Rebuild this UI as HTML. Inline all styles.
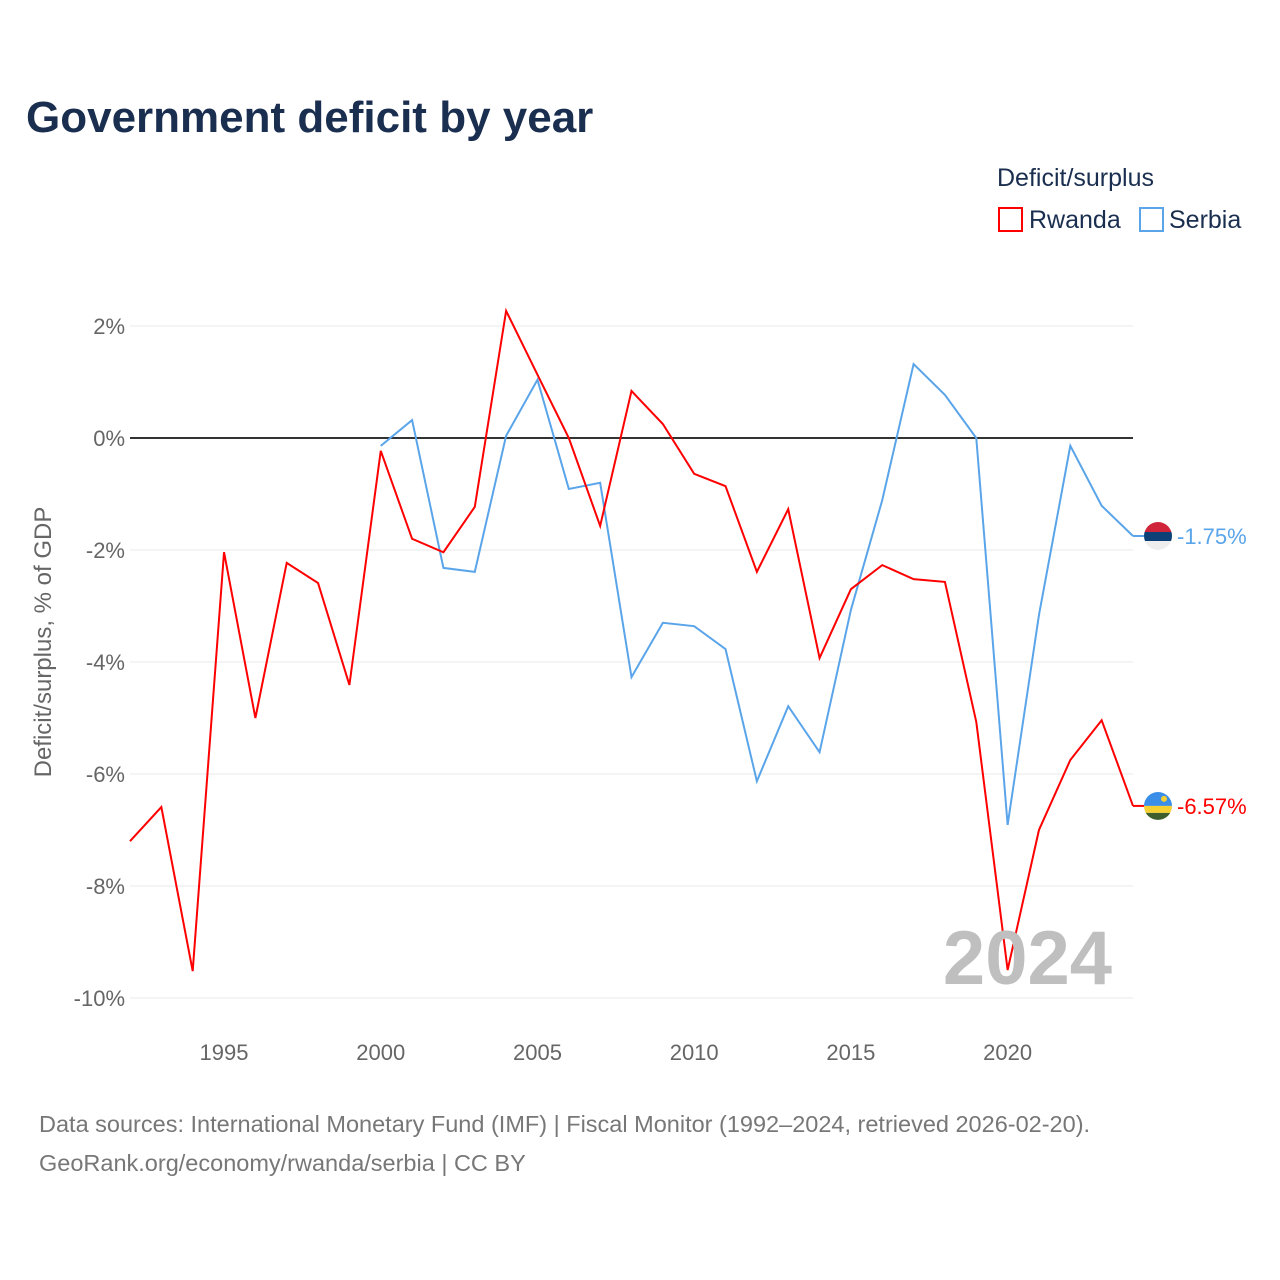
<!DOCTYPE html>
<html><head><meta charset="utf-8"><style>
body{margin:0;background:#fff;font-family:"Liberation Sans",sans-serif;}
</style></head><body>
<svg id="chart" width="1280" height="1280" xmlns="http://www.w3.org/2000/svg" style="display:block">
<defs>
<clipPath id="c-serbia"><circle cx="1158" cy="536" r="14"/></clipPath>
<clipPath id="c-rwanda"><circle cx="1158" cy="806" r="14"/></clipPath>
</defs>
<rect width="1280" height="1280" fill="#fff"/>
<text x="26" y="132" font-size="44" font-weight="bold" fill="#1a2e4f">Government deficit by year</text>
<text x="997" y="186" font-size="25" fill="#1a2e4f">Deficit/surplus</text>
<g><rect x="999" y="208" width="23" height="23" fill="none" stroke="#ff0000" stroke-width="2"/><text x="1029" y="228" font-size="25" fill="#1a2e4f">Rwanda</text></g>
<g><rect x="1140" y="208" width="23" height="23" fill="none" stroke="#5aa5ea" stroke-width="2"/><text x="1169" y="228" font-size="25" fill="#1a2e4f">Serbia</text></g>
<text transform="translate(51,642) rotate(-90)" text-anchor="middle" font-size="24" fill="#666">Deficit/surplus, % of GDP</text>
<g id="grid"></g><g id="axes"></g><g id="series"></g>
<text x="1112" y="984" text-anchor="end" font-size="76" font-weight="bold" fill="#bfbfbf">2024</text>
<text x="39" y="1132" font-size="23.5" fill="#777">Data sources: International Monetary Fund (IMF) | Fiscal Monitor (1992–2024, retrieved 2026-02-20).</text>
<text x="39" y="1171" font-size="23.5" fill="#777">GeoRank.org/economy/rwanda/serbia | CC BY</text>
</svg>
<script>
const years=[];for(let y=1992;y<=2024;y++)years.push(y);
const rwanda=[-7.2,-6.59,-9.52,-2.04,-5.0,-2.23,-2.59,-4.41,-0.23,-1.8,-2.04,-1.23,2.27,1.13,0,-1.57,0.84,0.25,-0.64,-0.86,-2.39,-1.27,-3.93,-2.7,-2.27,-2.52,-2.57,-5.07,-9.5,-7.0,-5.75,-5.04,-6.57];
const serbiaYears=[];for(let y=2000;y<=2024;y++)serbiaYears.push(y);
const serbia=[-0.14,0.32,-2.32,-2.39,0.04,1.04,-0.91,-0.8,-4.27,-3.3,-3.36,-3.77,-6.13,-4.79,-5.61,-3.07,-1.11,1.32,0.77,0,-6.91,-3.16,-0.14,-1.21,-1.75];
const yTicks=[2,0,-2,-4,-6,-8,-10];
const xTicks=[1995,2000,2005,2010,2015,2020];
const NS="http://www.w3.org/2000/svg";
const X=y=>130+(y-1992)*(1133-130)/32;
const Y=v=>438-v*56;
function mk(tag,attrs,parent){const e=document.createElementNS(NS,tag);for(const k in attrs)e.setAttribute(k,attrs[k]);parent.appendChild(e);return e;}
const grid=document.getElementById('grid'),axes=document.getElementById('axes'),series=document.getElementById('series');
yTicks.forEach(t=>{
  const l=mk('line',{x1:130,x2:1133,y1:Y(t),y2:Y(t),stroke:t===0?'#333':'#e8e8e8','stroke-width':t===0?2:1},grid);
  
  
  const tx=mk('text',{x:125,y:Y(t)+8,'text-anchor':'end','font-size':22,fill:'#666'},axes);
  tx.textContent=t+'%';
  
  
});
xTicks.forEach(t=>{
  const tx=mk('text',{x:X(t),y:1060,'text-anchor':'middle','font-size':22,fill:'#666'},axes);
  tx.textContent=t;
  
  
});
function line(xs,vs,color,name,stripes,clip){
  const p=mk('polyline',{points:xs.map((y,i)=>X(y)+','+Y(vs[i])).join(' '),fill:'none',stroke:color,'stroke-width':2},series);
  
  
  const lv=vs[vs.length-1];
  mk('line',{x1:1133,x2:1144,y1:Y(lv),y2:Y(lv),stroke:color,'stroke-width':2},series);
  const g=mk('g',{'clip-path':'url(#'+clip+')'},series);
  
  
  const cy=Y(lv);
  stripes.forEach((s,i)=>mk('rect',{x:1144,y:cy-14+s[0],width:28,height:s[1],fill:s[2]},g));
  const t=mk('text',{x:1177,y:Y(lv)+8,'font-size':22,fill:color},series);
  t.textContent=lv.toFixed(2)+'%';
  
  
  return g;
}
line(serbiaYears,serbia,'#5aa5ea','serbia-line',[[0,10,'#d0243a'],[10,9,'#0c4077'],[19,9,'#eeeeee']],'c-serbia');
const rg=line(years,rwanda,'#ff0000','rwanda-line',[[0,14,'#3b8ee8'],[14,7,'#f5d033'],[21,7,'#3f5e2d']],'c-rwanda');
mk('circle',{cx:1164,cy:Y(rwanda[rwanda.length-1])-7,r:3,fill:'#f5d033'},rg);
</script>
</body></html>
